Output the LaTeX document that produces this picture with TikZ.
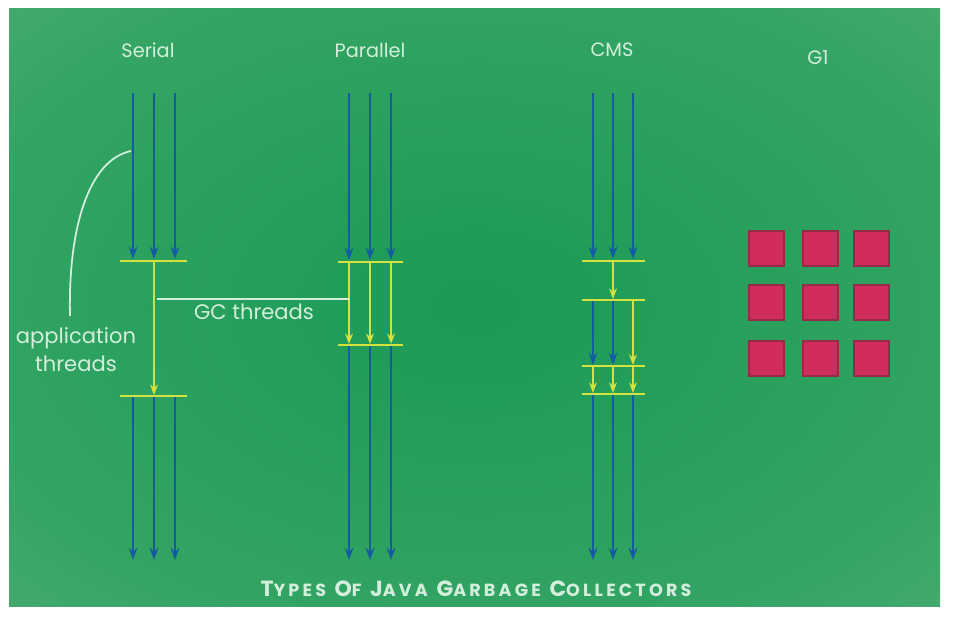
\documentclass[tikz,border=0pt]{standalone}
\usepackage{fontspec}
\setmainfont{Poppins}
\usetikzlibrary{arrows.meta}
\definecolor{bgcentre}{RGB}{26,154,86}
\definecolor{bgmid}{RGB}{52,164,100}
\definecolor{bgedge}{RGB}{96,180,126}
\definecolor{threadblue}{RGB}{20,92,160}
\definecolor{gcyellow}{RGB}{212,226,64}
\definecolor{labelwhite}{RGB}{212,238,220}
\definecolor{regionred}{RGB}{208,44,92}
\definecolor{regionedge}{RGB}{150,42,72}
\pgfdeclareradialshading{greenglow}{\pgfpoint{0bp}{0bp}}{%
  color(0bp)=(bgcentre); color(28bp)=(bgmid); color(50bp)=(bgedge); color(72bp)=(bgedge)}

\begin{document}
\begin{tikzpicture}[x=0.02cm, y=-0.02cm,
  appthread/.style={threadblue, line width=1.1pt, -{Stealth[length=7pt, width=5pt]}},
  gcthread/.style={gcyellow, line width=1.1pt, -{Stealth[length=6pt, width=4.5pt]}},
  safepoint/.style={gcyellow, line width=1.2pt},
  leader/.style={labelwhite, line width=1pt},
  gctitle/.style={labelwhite, font=\fontsize{11}{13}\selectfont},
  callout/.style={labelwhite, font=\fontsize{12}{14}\selectfont, align=center},
  region/.style={fill=regionred, draw=regionedge, line width=0.6pt}]
  \useasboundingbox (0,0) rectangle (957,623);
  % Background
  \fill[white] (0,0) rectangle (957,623);
  \shade[shading=greenglow] (9,8) rectangle (940,606);
  % Titles
  \node[gctitle] (serial) at (148,50) {Serial};
  \node[gctitle] (parallel) at (370,50) {Parallel};
  \node[gctitle] (cms) at (612,50) {CMS};
  \node[gctitle] (gone) at (818,58) {G1};
  % Serial
  \foreach \x in {133,154,175} {
    \draw[appthread] (\x,93) -- (\x,259);
    \draw[appthread] (\x,396) -- (\x,560);
  }
  \draw[safepoint] (120,261) -- (187,261);
  \draw[safepoint] (120,396) -- (187,396);
  \draw[gcthread] (154,261) -- (154,395);
  % Parallel
  \foreach \x in {349,370,391} {
    \draw[appthread] (\x,93) -- (\x,260);
    \draw[gcthread] (\x,262) -- (\x,344);
    \draw[appthread] (\x,345) -- (\x,560);
  }
  \draw[safepoint] (338,262) -- (403,262);
  \draw[safepoint] (338,345) -- (403,345);
  % CMS
  \foreach \x in {593,613,633} {
    \draw[appthread] (\x,93) -- (\x,259);
    \draw[gcthread] (\x,366) -- (\x,393);
    \draw[appthread] (\x,394) -- (\x,560);
  }
  \foreach \x in {593,613}
    \draw[appthread] (\x,300) -- (\x,365);
  \draw[gcthread] (613,261) -- (613,299);
  \draw[gcthread] (633,300) -- (633,365);
  \foreach \y in {261,300,366,394}
    \draw[safepoint] (582,\y) -- (645,\y);
  % G1 regions
  \foreach \x in {749,803,854}
    \foreach \y in {231,285,341}
      \draw[region] (\x,\y) rectangle ++(35,35);
  % Labels
  \node[callout] (gclbl) at (254,312) {GC threads};
  \coordinate (gcfrom) at (157,299);
  \coordinate (gcto) at (349,299);
  \draw[leader] (gcfrom) -- (gcto);
  \node[callout, inner sep=0pt] (applbl) at (76,350) {application\\[2pt]threads};
  \coordinate (apptip) at (131,151);
  \coordinate (append) at (70,316);
  \draw[leader] (apptip) .. controls (88,160) and (68,230) .. (append);
  % Caption
  \node[labelwhite, font=\fontsize{12.5}{14}\selectfont\bfseries\addfontfeature{LetterSpace=18}] (caption) at (476,589)
    {T\scalebox{0.8}{YPES} O\scalebox{0.8}{F} J\scalebox{0.8}{AVA} G\scalebox{0.8}{ARBAGE} C\scalebox{0.8}{OLLECTORS}};
\end{tikzpicture}
\end{document}
